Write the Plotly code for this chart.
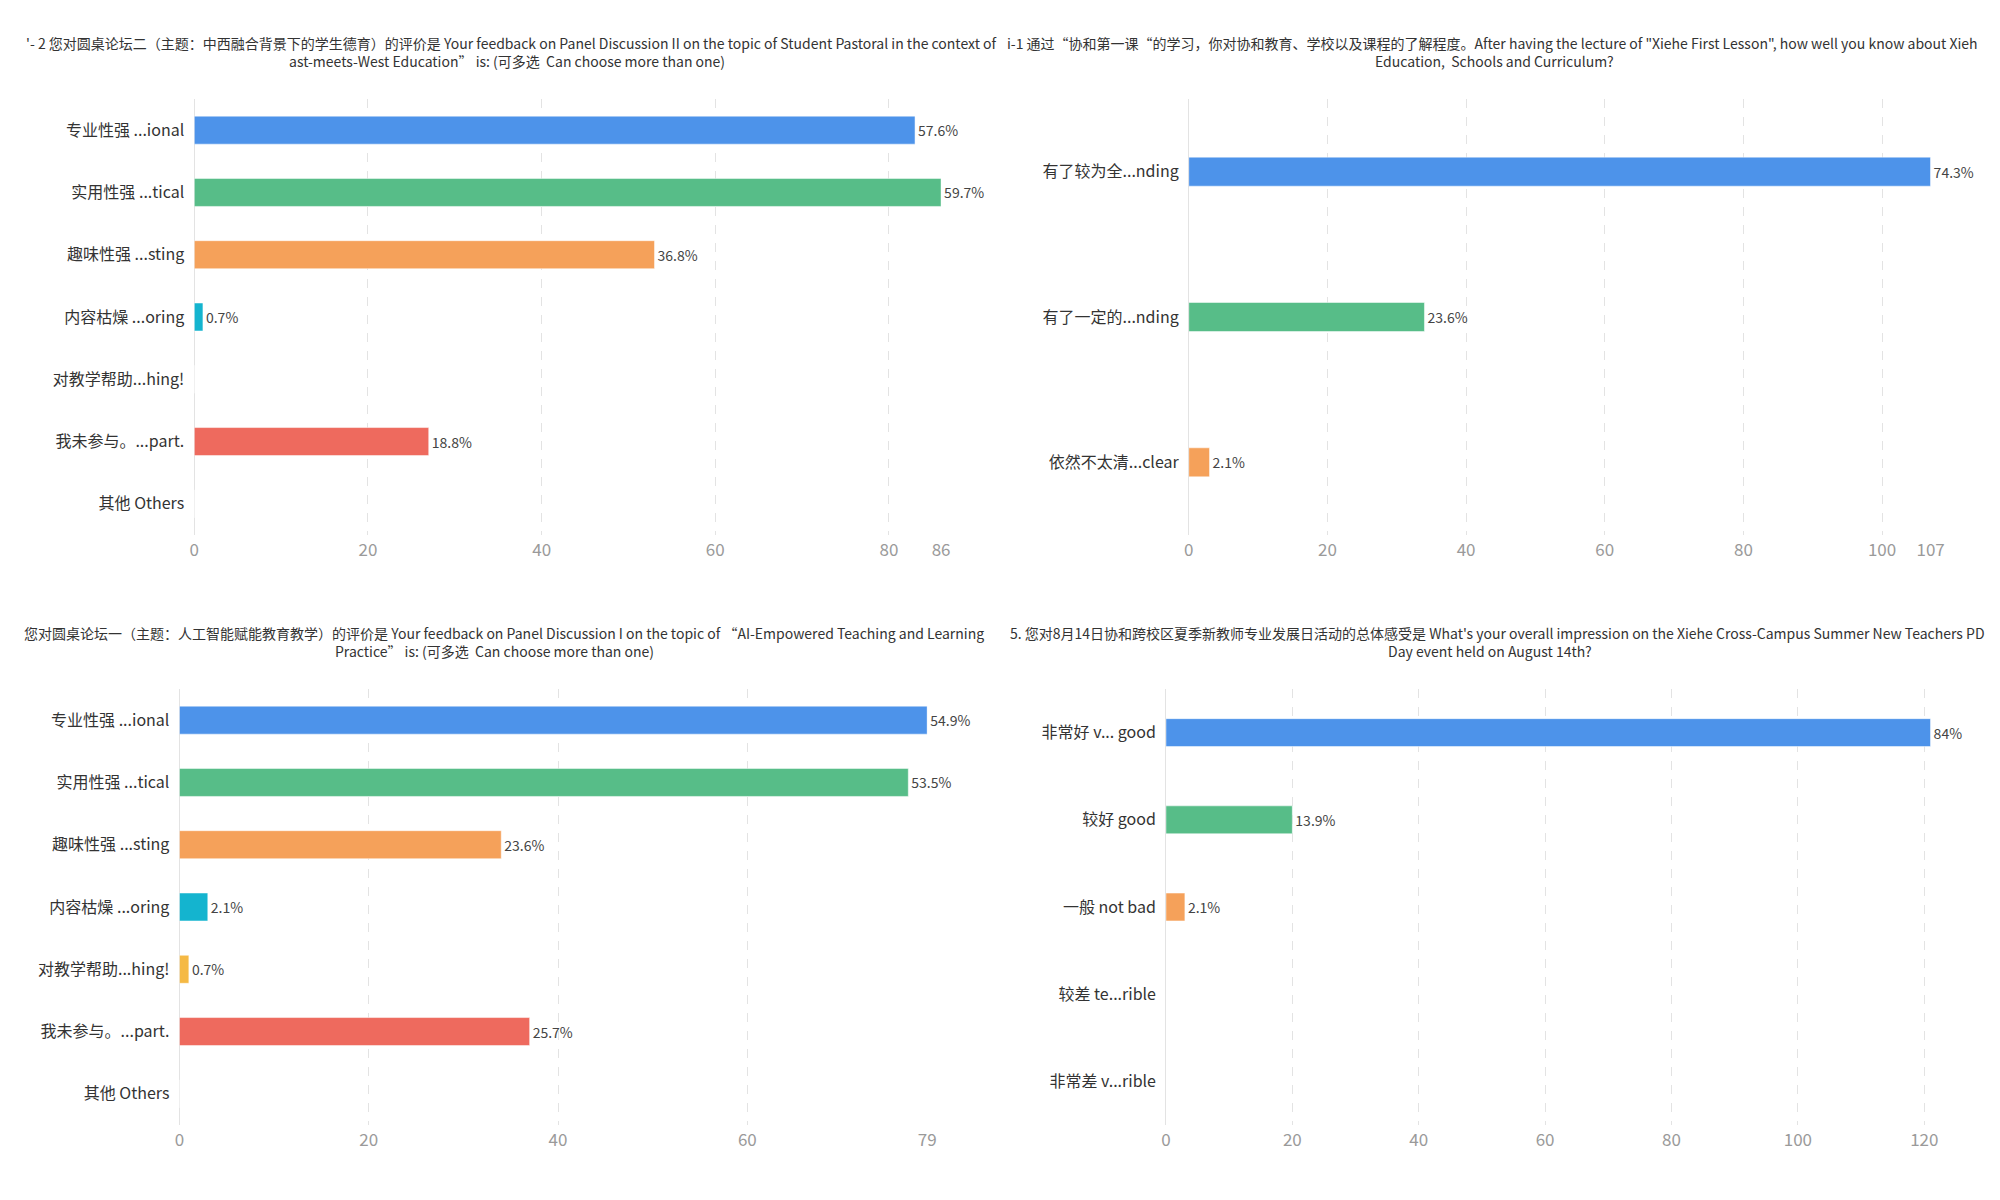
import plotly.graph_objs as go

# panel 1 - Panel Discussion II
cats1 = ['专业性强 ...ional', '实用性强 ...tical', '趣味性强 ...sting', '内容枯燥 ...oring',
         '对教学帮助...hing!', '我未参与。...part.', '其他 Others']
vals1 = [83, 86, 53, 1, 0, 27, 0]
pct1 = ['57.6%', '59.7%', '36.8%', '0.7%', '', '18.8%', '']

# panel 2 - Xiehe First Lesson
cats2 = ['有了较为全...nding', '有了一定的...nding', '依然不太清...clear']
vals2 = [107, 34, 3]
pct2 = ['74.3%', '23.6%', '2.1%']

# panel 3 - Panel Discussion I
cats3 = ['专业性强 ...ional', '实用性强 ...tical', '趣味性强 ...sting', '内容枯燥 ...oring',
         '对教学帮助...hing!', '我未参与。...part.', '其他 Others']
vals3 = [79, 77, 34, 3, 1, 37, 0]
pct3 = ['54.9%', '53.5%', '23.6%', '2.1%', '0.7%', '25.7%', '']

# panel 4 - overall impression
cats4 = ['非常好 v... good', '较好 good', '一般 not bad', '较差 te...rible', '非常差 v...rible']
vals4 = [121, 20, 3, 0, 0]
pct4 = ['84%', '13.9%', '2.1%', '', '']

colors = ['#4d93ea', '#57bd88', '#f5a15a', '#14b4cf', '#f5b944', '#ee6a5e', '#9aa5b4']

titles = [
    ("'- 2 您对圆桌论坛二（主题：中西融合背景下的学生德育）的评价是 Your feedback on Panel Discussion II on the topic of Student Pastoral in the context of",
     "ast-meets-West Education” is: (可多选  Can choose more than one)"),
    ("i-1 通过“协和第一课“的学习，你对协和教育、学校以及课程的了解程度。After having the lecture of \"Xiehe First Lesson\", how well you know about Xieh",
     "Education,  Schools and Curriculum?"),
    ("您对圆桌论坛一（主题：人工智能赋能教育教学）的评价是 Your feedback on Panel Discussion I on the topic of “AI-Empowered Teaching and Learning",
     "Practice” is: (可多选  Can choose more than one)"),
    ("5. 您对8月14日协和跨校区夏季新教师专业发展日活动的总体感受是 What's your overall impression on the Xiehe Cross-Campus Summer New Teachers PD",
     "Day event held on August 14th?"),
]

FONT = 'Noto Sans CJK SC'
W, H = 2000, 1200

# pixel boxes of each plot area: x0, x1, ytop, ybottom
boxes = [(183, 937, 91, 527), (1187, 1936, 91, 527),
         (168, 923, 681, 1117), (1164, 1936, 681, 1117)]
gaps = [0.55, 0.8, 0.55, 0.68]
panels = [(cats1, vals1, pct1), (cats2, vals2, pct2), (cats3, vals3, pct3), (cats4, vals4, pct4)]

fig = go.Figure()
layout = dict(width=W, height=H, margin=dict(l=0, r=0, t=0, b=0),
              paper_bgcolor='white', plot_bgcolor='white', showlegend=False,
              font=dict(family=FONT, color='#333333'), annotations=[])

for i, (cats, vals, pct) in enumerate(panels):
    n = str(i + 1) if i else ''
    fig.add_trace(go.Bar(
        y=cats, x=vals, orientation='h', width=1 - gaps[i],
        marker=dict(color=colors[:len(cats)], line=dict(color='rgba(255,255,255,0.5)', width=1)),
        text=pct, textposition='outside', cliponaxis=False,
        textfont=dict(size=14, color='#444444', family=FONT),
        xaxis='x' + n, yaxis='y' + n,
    ))
    x0, x1, yt, yb = boxes[i]
    vmax = max(vals)
    ticks = list(range(0, vmax, 20)) + [vmax]
    ticktext = [str(t) for t in ticks]
    if vmax - ticks[-2] < 4:
        ticktext[-1] = ''
    layout['xaxis' + n] = dict(
        domain=[x0 / W, x1 / W], anchor='y' + n, range=[0, vmax],
        tickvals=ticks, ticktext=ticktext,
        showgrid=True, gridcolor='#e3e3e3', griddash='dash', gridwidth=1,
        zeroline=True, zerolinecolor='#e3e3e3', zerolinewidth=1,
        showline=False, ticks='', ticklabelstandoff=3,
        tickfont=dict(size=17, color='#9a9a9a', family=FONT),
    )
    layout['yaxis' + n] = dict(
        domain=[1 - yb / H, 1 - yt / H], anchor='x' + n,
        autorange='reversed', type='category',
        showgrid=False, zeroline=False, showline=False, ticks='',
        ticklabelstandoff=9,
        tickfont=dict(size=16, color='#333333', family=FONT),
    )

# title lines: (x px, anchor, y px)
title_pos = [((11, 'left', 35), (499, 'center', 53)),
             ((1002, 'left', 35), (1496, 'center', 53)),
             ((496, 'center', 625), (486, 'center', 643)),
             ((1005, 'left', 625), (1491, 'center', 643))]
for (l1, l2), ((ax, aa, ay), (bx, ba, by)) in zip(titles, title_pos):
    for txt, x, anc, y in ((l1, ax, aa, ay), (l2, bx, ba, by)):
        layout['annotations'].append(dict(
            text=txt, x=x / W, y=1 - y / H, xref='paper', yref='paper',
            xanchor=anc, yanchor='middle', showarrow=False,
            font=dict(size=14, color='#333333', family=FONT)))

fig.update_layout(**layout)

fig.write_html('out.html')
